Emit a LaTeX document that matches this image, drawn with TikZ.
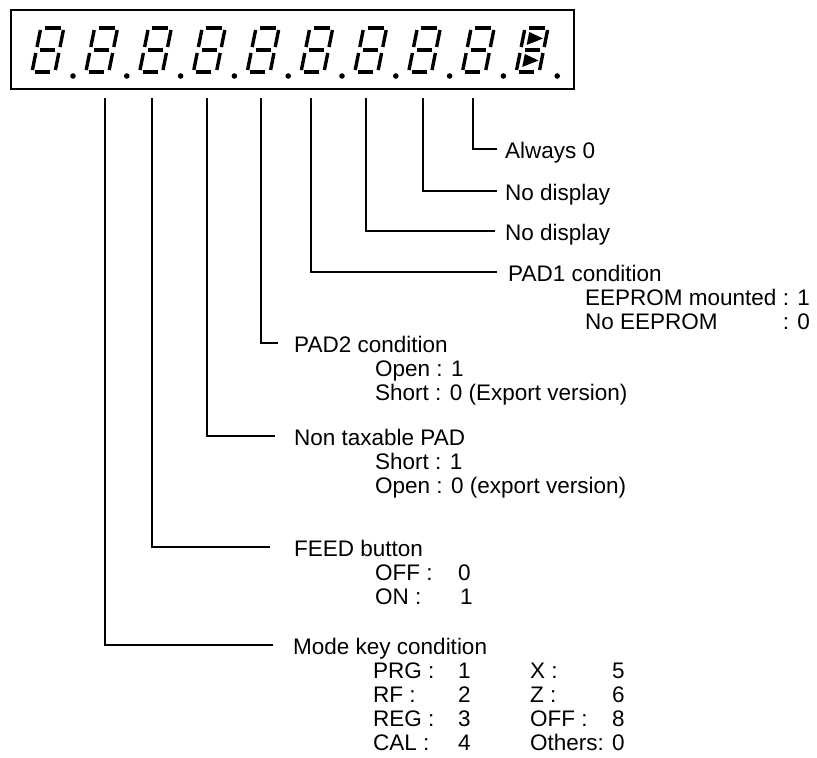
\documentclass[tikz,border=0pt]{standalone}
\usepackage{fontspec}
\setmainfont{Liberation Sans}
\usepackage{tikz}
\usetikzlibrary{positioning, calc}

\begin{document}
\begin{tikzpicture}[
  x=1pt, y=-1pt,
  txt/.style={inner sep=0pt, anchor=base west, font=\fontsize{22.5}{24}\selectfont},
  title/.style={txt, anchor=west, text height=18pt, text depth=0pt},
  lead/.style={line width=1.2pt},
  hseg/.style={line width=4.6pt},
  vseg/.style={line width=3.4pt},
  panelbox/.style={draw, line width=1.6pt, inner sep=0pt, anchor=north west,
                   minimum width=563pt, minimum height=79pt}
]
\useasboundingbox (0,0) rectangle (817,758);
\node[panelbox] (panel) at (10,9) {};

% display digits
\foreach \i in {0,...,9}{
  \begin{scope}[shift={(32+53.8*\i,72)}, y=1pt, xslant=0.2]
    \draw[hseg] (4,44) -- (20,44) (4,22) -- (19,22) (3,0) -- (18,0);
    \draw[vseg] (0,25) -- (0,42) (23,25) -- (23,42) (0,2) -- (0,19) (23,2) -- (23,19);
  \end{scope}
  \fill (73+53.8*\i,76) circle (2.8pt);
}
\begin{scope}[shift={(516.2,72)}, y=1pt, xslant=0.2]
  \fill (5,27) -- (5,40) -- (20,33.5) -- cycle;
  \fill (5,5) -- (5,18) -- (20,11.5) -- cycle;
\end{scope}

% leader start points under the digits
\foreach \n/\x in {2/105, 3/152, 4/207, 5/261, 6/311, 7/366, 8/423, 9/473}
  \coordinate (d\n) at (\x,98);

% titles
\node[title] (always) at (505,149) {Always 0};
\node[title] (nodisp1) at (505,191) {No display};
\node[title] (nodisp2) at (505,231) {No display};
\node[title] (pad1) at (508,272) {PAD1 condition};
\node[title] (pad2) at (294,343) {PAD2 condition};
\node[title] (nontax) at (294,436) {Non taxable PAD};
\node[title] (feed) at (294,547) {FEED button};
\node[title] (mode) at (293,645) {Mode key condition};

% values
\node[txt] (pad1a) at (585,305) {EEPROM mounted : 1};
\node[txt] (pad1b) at (585,329) {\rlap{No EEPROM}\phantom{EEPROM mounted} : 0};
\node[txt] (pad2a) at (375,376) {Open : 1};
\node[txt] (pad2b) at (375,400) {Short : 0 (Export version)};
\node[txt] (nontaxa) at (375,469) {Short : 1};
\node[txt] (nontaxb) at (375,493) {Open : 0 (export version)};
\node[txt] (feeda) at (375,580) {OFF :};
\node[txt] (feedav) at (458,580) {0};
\node[txt] (feedb) at (375,604) {ON :};
\node[txt] (feedbv) at (460,604) {1};
\foreach \k/\v/\kk/\vv [count=\r] in {PRG :/1/X :/5, RF :/2/Z :/6, REG :/3/OFF :/8, CAL :/4/Others:/0}{
  \node[txt] (mk\r) at (373,654+24*\r) {\k};
  \node[txt] (mkv\r) at (458,654+24*\r) {\v};
  \node[txt] (mx\r) at (530,654+24*\r) {\kk};
  \node[txt] (mxv\r) at (612,654+24*\r) {\vv};
}

% leaders
\draw[lead, shorten >=8pt] (d9) |- (always.west);
\draw[lead, shorten >=8pt] (d8) |- (nodisp1.west);
\draw[lead, shorten >=10pt] (d7) |- (nodisp2.west);
\draw[lead, shorten >=11pt] (d6) |- (pad1.west);
\draw[lead, shorten >=16pt] (d5) |- (pad2.west);
\draw[lead, shorten >=19pt] (d4) |- (nontax.west);
\draw[lead, shorten >=24pt] (d3) |- (feed.west);
\draw[lead, shorten >=20pt] (d2) |- (mode.west);
\end{tikzpicture}
\end{document}
